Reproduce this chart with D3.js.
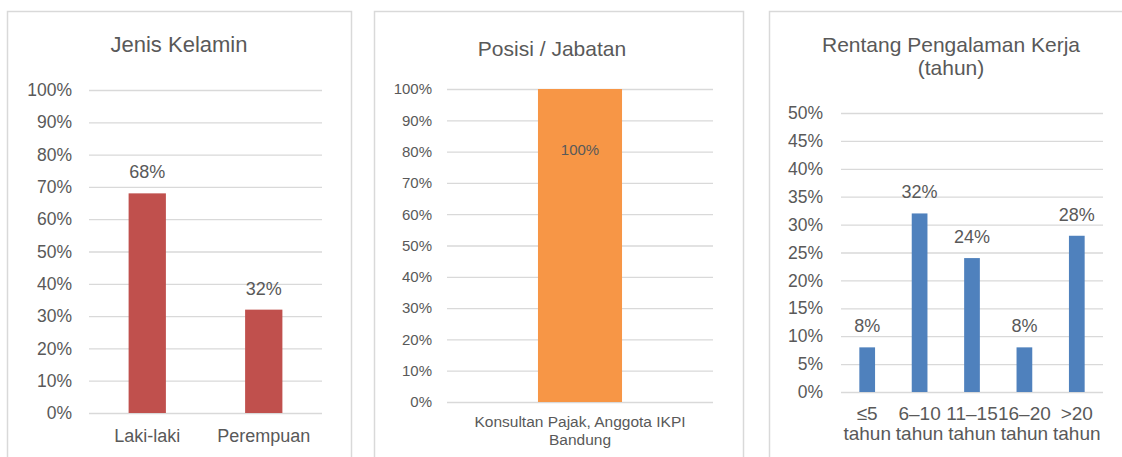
<!DOCTYPE html>
<html>
<head>
<meta charset="utf-8">
<script src="https://cdn.jsdelivr.net/npm/d3@7"></script>
<style>
  body { margin: 0; background: #fff; }
  svg text { font-family: "Liberation Sans", Arial, sans-serif; fill: #595959; }
  .grid line { stroke: #d9d9d9; stroke-width: 1.3; }
  .grid .domain { display: none; }
  .frame { fill: none; stroke: #d9d9d9; stroke-width: 1.5; }
</style>
</head>
<body>
<div id="chart"></div>
<script>

// Data: Jenis Kelamin
const genderCategories = [["Laki-laki"], ["Perempuan"]];
const genderValues = [0.68, 0.32];

// Data: Posisi / Jabatan
const positionCategories = [["Konsultan Pajak, Anggota IKPI", "Bandung"]];
const positionValues = [1.00];

// Data: Rentang Pengalaman Kerja
const experienceCategories = [["≤5", "tahun"], ["6–10", "tahun"], ["11–15", "tahun"], ["16–20", "tahun"], [">20", "tahun"]];
const experienceValues = [0.08, 0.32, 0.24, 0.08, 0.28];

const yTicksTen = [0, 0.1, 0.2, 0.3, 0.4, 0.5, 0.6, 0.7, 0.8, 0.9, 1.0];
const yTicksFive = [0, 0.05, 0.1, 0.15, 0.2, 0.25, 0.3, 0.35, 0.4, 0.45, 0.5];


class PanelChart {

  constructor(svg, categories, values, config) {
    this.svg = svg;
    this.categories = categories;
    this.values = values;
    this.config = config;
    this.initVis();
  }

  initVis() {
    let vis = this;
    let c = vis.config;

    vis.g = vis.svg.append("g");

    // frame (bottom edge runs off the picture)
    vis.g.append("path")
      .attr("class", "frame")
      .attr("d", `M${c.frame[0]},470 V${c.frame[2]} H${c.frame[1]} V470`);

    // title
    let title = vis.g.append("text")
      .attr("x", c.titleX)
      .attr("y", c.titleY)
      .attr("text-anchor", "middle")
      .style("font-size", c.titleSize + "px");
    c.title.forEach((t, i) => {
      title.append("tspan").attr("x", c.titleX).attr("dy", i === 0 ? 0 : c.titleLine).text(t);
    });

    vis.x = d3.scaleBand()
      .domain(vis.categories.map((d, i) => i))
      .range([c.left, c.right])
      .paddingInner(c.pad)
      .paddingOuter(c.pad / 2);

    vis.y = d3.scaleLinear()
      .domain([0, c.yMax])
      .range([c.bottom, c.top]);

    vis.yAxis = d3.axisLeft(vis.y)
      .tickValues(c.ticks)
      .tickSize(-(c.right - c.left))
      .tickPadding(c.tickGap)
      .tickFormat(d3.format(".0%"));

    vis.g.append("g")
      .attr("class", "grid")
      .attr("transform", "translate(" + c.left + ",0)")
      .call(vis.yAxis)
      .selectAll("text")
      .style("font-size", c.tickSize + "px")
      .style("fill", "#595959");

    vis.updateVis();
  }

  updateVis() {
    let vis = this;
    let c = vis.config;

    vis.g.selectAll(".bar")
      .data(vis.values)
      .enter()
      .append("rect")
      .attr("class", "bar")
      .attr("x", (d, i) => vis.x(i))
      .attr("y", d => vis.y(d))
      .attr("width", vis.x.bandwidth())
      .attr("height", d => vis.y(0) - vis.y(d))
      .attr("fill", c.color);

    vis.g.selectAll(".label")
      .data(vis.values)
      .enter()
      .append("text")
      .attr("class", "label")
      .attr("x", (d, i) => vis.x(i) + vis.x.bandwidth() / 2)
      .attr("y", d => vis.y(d) + c.labelOffset)
      .attr("text-anchor", "middle")
      .style("font-size", c.labelSize + "px")
      .text(d => d3.format(".0%")(d));

    let cats = vis.g.selectAll(".cat")
      .data(vis.categories)
      .enter()
      .append("text")
      .attr("class", "cat")
      .attr("text-anchor", "middle")
      .attr("y", c.catY)
      .style("font-size", c.catSize + "px");

    cats.each(function(d, i) {
      let cx = vis.x(i) + vis.x.bandwidth() / 2;
      d.forEach((line, j) => {
        d3.select(this).append("tspan")
          .attr("x", cx)
          .attr("dy", j === 0 ? 0 : c.catLine)
          .text(line);
      });
    });
  }
}


const svg = d3.select("#chart")
  .append("svg")
  .attr("width", 1122)
  .attr("height", 457);

new PanelChart(svg, genderCategories, genderValues, {
  frame: [7.5, 351.5, 11.5],
  title: ["Jenis Kelamin"], titleX: 179, titleY: 52, titleSize: 22, titleLine: 23,
  left: 89, right: 322, top: 90, bottom: 413, yMax: 1, ticks: yTicksTen,
  pad: 0.68, tickGap: 17, tickSize: 17.5,
  color: "#c0504d", labelOffset: -15, labelSize: 18,
  catY: 442, catSize: 18, catLine: 20
});

new PanelChart(svg, positionCategories, positionValues, {
  frame: [374.5, 743.5, 11.5],
  title: ["Posisi / Jabatan"], titleX: 552, titleY: 56, titleSize: 21, titleLine: 23,
  left: 447, right: 713, top: 89, bottom: 402, yMax: 1, ticks: yTicksTen,
  pad: 0.684, tickGap: 15, tickSize: 15,
  color: "#f79646", labelOffset: 66, labelSize: 15,
  catY: 427, catSize: 15.5, catLine: 18
});

new PanelChart(svg, experienceCategories, experienceValues, {
  frame: [769.5, 1140, 11.5],
  title: ["Rentang Pengalaman Kerja", "(tahun)"], titleX: 951, titleY: 52, titleSize: 21, titleLine: 23,
  left: 841, right: 1103, top: 113, bottom: 392, yMax: 0.5, ticks: yTicksFive,
  pad: 0.7, tickGap: 18, tickSize: 17.5,
  color: "#4f81bd", labelOffset: -15, labelSize: 18,
  catY: 420, catSize: 19, catLine: 20
});

</script>
</body>
</html>
